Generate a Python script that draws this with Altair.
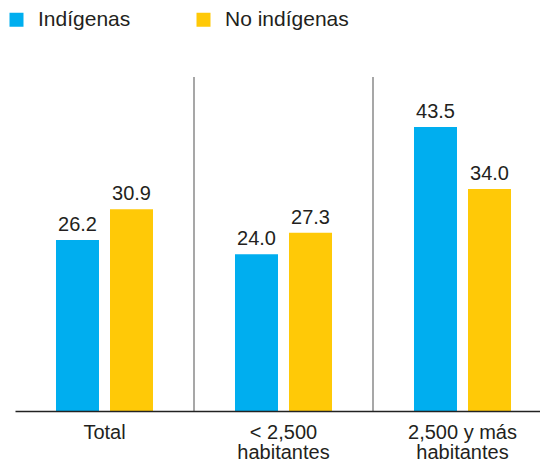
import altair as alt
import pandas as pd

categories = ["Total", "< 2,500|habitantes", "2,500 y más|habitantes"]
series = ["Indígenas", "No indígenas"]
indigenas = [26.2, 24.0, 43.5]
no_indigenas = [30.9, 27.3, 34.0]
colors = ["#00AEEF", "#FFC907"]

FONT = "Liberation Sans"
TEXT = "#231F20"

rows = []
for c, a, b in zip(categories, indigenas, no_indigenas):
    rows.append({"cat": c, "serie": series[0], "valor": a})
    rows.append({"cat": c, "serie": series[1], "valor": b})
df = pd.DataFrame(rows)
sep_df = pd.DataFrame({"cat": categories[1:]})

xscale = alt.Scale(domain=categories, paddingInner=0, paddingOuter=0, range=[0, 537])
x_axis = alt.Axis(
    title=None,
    labelExpr="split(datum.label, '|')",
    labelAngle=0,
    labelFont=FONT,
    labelFontSize=20,
    labelColor=TEXT,
    labelLineHeight=20,
    labelBaseline="alphabetic",
    labelPadding=27,
    ticks=False,
    tickSize=0,
    domainColor="#222222",
    domainWidth=1.5,
    grid=False,
    zindex=1,
)
x = alt.X("cat:N", sort=categories, scale=xscale, axis=x_axis)
xoff = alt.XOffset("serie:N", sort=series,
                   scale=alt.Scale(domain=series, paddingInner=0.2037, paddingOuter=0.759))
y = alt.Y("valor:Q", scale=alt.Scale(domain=[0, 50.85], nice=False, zero=True), axis=None)
color = alt.Color(
    "serie:N", sort=series,
    scale=alt.Scale(domain=series, range=colors),
    legend=alt.Legend(
        title=None, orient="none", legendX=-9, legendY=-70,
        direction="horizontal", symbolType="square", symbolSize=196,
        symbolStrokeWidth=0, symbolOpacity=1,
        labelFont=FONT, labelFontSize=21, labelColor=TEXT, labelOffset=11,
        columnPadding=62, padding=0, labelLimit=300,
    ),
)

bars = alt.Chart(df).mark_bar().encode(x=x, xOffset=xoff, y=y, color=color)
labels = alt.Chart(df).mark_text(
    dy=-9, baseline="alphabetic", font=FONT, fontSize=20, color=TEXT
).encode(x=x, xOffset=xoff, y=y, text=alt.Text("valor:Q", format=".1f"))
seps = alt.Chart(sep_df).mark_rule(color="#8a8a8a", strokeWidth=1.5).encode(
    x=alt.X("cat:N", sort=categories, scale=xscale, bandPosition=0, axis=x_axis),
    y=alt.value(-2),
    y2=alt.value(332),
)

chart = alt.layer(seps, bars, labels).properties(
    width=525,
    height=332,
    padding={"left": 7, "top": 71, "right": 0, "bottom": 51},
    autosize=alt.AutoSizeParams(type="none"),
).configure_view(stroke=None)

chart.save("out.html", embed_options={"renderer": "svg", "actions": False})
